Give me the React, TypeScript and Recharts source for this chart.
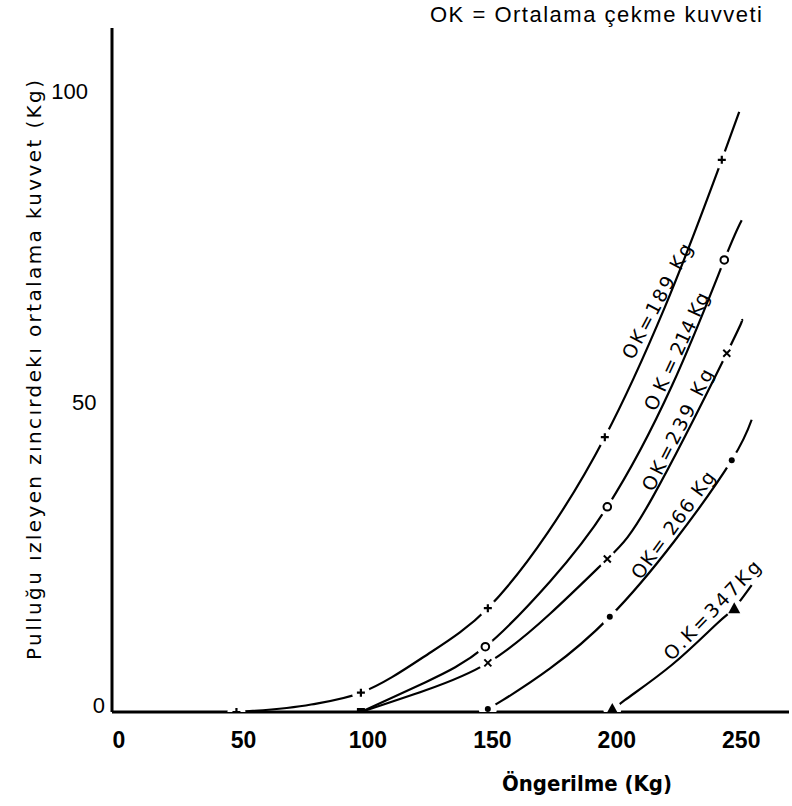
import React from "react";
import {
  ComposedChart,
  Line,
  Scatter,
  XAxis,
  YAxis,
  ReferenceDot,
} from "recharts";

// Öngerilme (Kg) on x, ortalama kuvvet (Kg) on y
const curve189 = [
  { x: 50, y: 0 },
  { x: 80, y: 1.2 },
  { x: 100, y: 3.1 },
  { x: 125, y: 8.8 },
  { x: 151, y: 16.7 },
  { x: 175, y: 28.8 },
  { x: 198, y: 44.2 },
  { x: 222, y: 65 },
  { x: 245, y: 88.8 },
  { x: 252, y: 96.5 },
];
const curve214 = [
  { x: 100, y: 0 },
  { x: 126, y: 4.8 },
  { x: 150, y: 10.5 },
  { x: 176, y: 21 },
  { x: 199, y: 33 },
  { x: 225, y: 52.5 },
  { x: 246, y: 72.7 },
  { x: 253, y: 79.1 },
];
const curve239 = [
  { x: 100, y: 0 },
  { x: 126, y: 3.5 },
  { x: 151, y: 7.9 },
  { x: 176, y: 15.8 },
  { x: 199, y: 24.6 },
  { x: 217, y: 34.4 },
  { x: 247, y: 57.7 },
  { x: 253, y: 63 },
];
const curve266 = [
  { x: 151, y: 0.5 },
  { x: 157, y: 1.9 },
  { x: 176, y: 7 },
  { x: 200, y: 15.3 },
  { x: 226, y: 27.5 },
  { x: 249, y: 40.5 },
  { x: 257, y: 47 },
];
const curve347 = [
  { x: 201, y: 0 },
  { x: 206, y: 1.9 },
  { x: 225, y: 7.6 },
  { x: 243, y: 14.2 },
  { x: 250, y: 16.7 },
  { x: 257, y: 20.4 },
];

// measured points (markers)
const pts189 = [
  { x: 50, y: 0 },
  { x: 100, y: 3.1 },
  { x: 151, y: 16.7 },
  { x: 198, y: 44.2 },
  { x: 245, y: 88.8 },
];
const pts214 = [
  { x: 150, y: 10.5 },
  { x: 199, y: 33 },
  { x: 246, y: 72.7 },
];
const pts239 = [
  { x: 151, y: 7.9 },
  { x: 199, y: 24.6 },
  { x: 247, y: 57.7 },
];
const pts266 = [
  { x: 151, y: 0.5 },
  { x: 200, y: 15.3 },
  { x: 249, y: 40.5 },
];
const pts347 = [
  { x: 201, y: 0.5 },
  { x: 250, y: 16.7 },
];
const ptsStart = [{ x: 100, y: 0 }];

const xTicks = [0, 50, 100, 150, 200, 250];
const yTicks = [0, 50, 100];

const curveLabels = [
  { text: "OK=189 Kg", x: 218.9, y: 66.1, angle: 62, len: 128 },
  { text: "O K = 214 Kg", x: 226.7, y: 58, angle: 65, len: 128 },
  { text: "OK=239 Kg", x: 227.1, y: 45.4, angle: 63, len: 134 },
  { text: "OK= 266 Kg", x: 225.3, y: 30.1, angle: 54, len: 128 },
  { text: "O.K=347Kg", x: 241, y: 16.4, angle: 46, len: 130 },
];

const INK = "#000";

function Marker({ cx, cy, kind }: { cx: number; cy: number; kind: string }) {
  if (cx == null || cy == null) return null;
  const halo = kind !== "square";
  let sym: React.ReactNode = null;
  if (kind === "plus") {
    sym = (
      <path
        d={`M${cx - 4},${cy}H${cx + 4}M${cx},${cy - 4}V${cy + 4}`}
        stroke={INK}
        strokeWidth={2.2}
      />
    );
  } else if (kind === "cross") {
    sym = (
      <path
        d={`M${cx - 3.5},${cy - 3.5}L${cx + 3.5},${cy + 3.5}M${cx - 3.5},${cy + 3.5}L${cx + 3.5},${cy - 3.5}`}
        stroke={INK}
        strokeWidth={2}
      />
    );
  } else if (kind === "circle") {
    sym = <circle cx={cx} cy={cy} r={3.8} fill="#fff" stroke={INK} strokeWidth={2} />;
  } else if (kind === "dot") {
    sym = <circle cx={cx} cy={cy} r={3} fill={INK} />;
  } else if (kind === "triangle") {
    sym = (
      <path
        d={`M${cx},${cy - 6}L${cx + 6},${cy + 5}L${cx - 6},${cy + 5}Z`}
        fill={INK}
      />
    );
  } else if (kind === "square") {
    sym = <rect x={cx - 4} y={cy - 4} width={8} height={8} fill={INK} />;
  }
  return (
    <g>
      {halo && <circle cx={cx} cy={cy} r={9} fill="#fff" />}
      {sym}
    </g>
  );
}

function XTick({ x, y, payload }: any) {
  return (
    <text
      x={x + 7}
      y={y + 36}
      textAnchor="middle"
      fontFamily="Liberation Sans, Arial, sans-serif"
      fontWeight="bold"
      fontSize={23}
      fill={INK}
    >
      {payload.value}
    </text>
  );
}

function YTick({ x, y, payload }: any) {
  // labels drift slightly to the left going up, like the scan
  const right = x - 7 - 0.0273 * (712 - y);
  const dy = payload.value === 0 ? -7 : 1;
  return (
    <text
      x={right}
      y={y + dy}
      textAnchor="end"
      dominantBaseline="central"
      fontFamily="Liberation Sans, Arial, sans-serif"
      fontSize={22}
      fill={INK}
    >
      {payload.value}
    </text>
  );
}

const series = [
  { line: curve189, pts: pts189, kind: "plus", curve: "monotone" },
  { line: curve214, pts: pts214, kind: "circle", curve: "natural" },
  { line: curve239, pts: pts239, kind: "cross", curve: "natural" },
  { line: curve266, pts: pts266, kind: "dot", curve: "natural" },
  { line: curve347, pts: pts347, kind: "triangle", curve: "natural" },
];

export default function App() {
  return (
    <div style={{ position: "absolute", left: 0, top: 0, width: 792, height: 806, background: "#fff" }}>
      <ComposedChart
        width={792}
        height={806}
        margin={{ top: 28, right: 3, bottom: 0, left: 0 }}
      >
        <XAxis
          type="number"
          dataKey="x"
          domain={[0, 272]}
          ticks={xTicks}
          allowDataOverflow
          tickLine={false}
          tickSize={0}
          tickMargin={0}
          height={94}
          axisLine={{ stroke: INK, strokeWidth: 3 }}
          tick={<XTick />}
          label={{
            content: () => (
              <text
                x={587}
                y={791}
                textAnchor="middle"
                fontFamily="DejaVu Sans, sans-serif"
                fontWeight="bold"
                fontSize={22}
                textLength={170}
                lengthAdjust="spacingAndGlyphs"
                fill={INK}
              >
                Öngerilme (Kg)
              </text>
            ),
          }}
        />
        <YAxis
          type="number"
          dataKey="y"
          domain={[0, 110]}
          ticks={yTicks}
          allowDataOverflow
          width={112}
          tickLine={false}
          tickSize={0}
          tickMargin={0}
          axisLine={{ stroke: INK, strokeWidth: 3 }}
          tick={<YTick />}
          label={{
            content: () => (
              <text
                x={34}
                y={370}
                transform="rotate(-90 34 370)"
                textAnchor="middle"
                dominantBaseline="central"
                fontFamily="DejaVu Sans, sans-serif"
                fontSize={20}
                textLength={580}
                lengthAdjust="spacing"
                fill={INK}
              >
                Pulluğu ızleyen zıncırdekı ortalama kuvvet (Kg)
              </text>
            ),
          }}
        />
        {series.map((s, i) => (
          <Line
            key={`l${i}`}
            data={s.line}
            dataKey="y"
            type={s.curve as any}
            stroke={INK}
            strokeWidth={2.2}
            dot={false}
            activeDot={false}
            isAnimationActive={false}
          />
        ))}
        {series.map((s, i) => (
          <Scatter
            key={`s${i}`}
            data={s.pts}
            dataKey="y"
            isAnimationActive={false}
            shape={(p: any) => <Marker cx={p.cx} cy={p.cy} kind={s.kind} />}
          />
        ))}
        <Scatter
          data={ptsStart}
          dataKey="y"
          isAnimationActive={false}
          shape={(p: any) => <Marker cx={p.cx} cy={p.cy} kind="square" />}
        />
        {curveLabels.map((l, i) => (
          <ReferenceDot
            key={`t${i}`}
            x={l.x}
            y={l.y}
            r={0}
            shape={(p: any) => (
              <text
                x={p.cx}
                y={p.cy}
                transform={`rotate(${-l.angle} ${p.cx} ${p.cy})`}
                textAnchor="middle"
                dominantBaseline="central"
                fontFamily="DejaVu Sans, sans-serif"
                fontSize={19}
                textLength={l.len}
                lengthAdjust="spacing"
                fill={INK}
              >
                {l.text}
              </text>
            )}
          />
        ))}
      </ComposedChart>
      <svg
        width={792}
        height={40}
        style={{ position: "absolute", left: 0, top: 0, pointerEvents: "none" }}
      >
        <text
          x={762}
          y={22}
          textAnchor="end"
          fontFamily="Liberation Sans, Arial, sans-serif"
          fontSize={22}
          textLength={332}
          lengthAdjust="spacing"
          fill={INK}
        >
          OK = Ortalama çekme kuvveti
        </text>
      </svg>
    </div>
  );
}
